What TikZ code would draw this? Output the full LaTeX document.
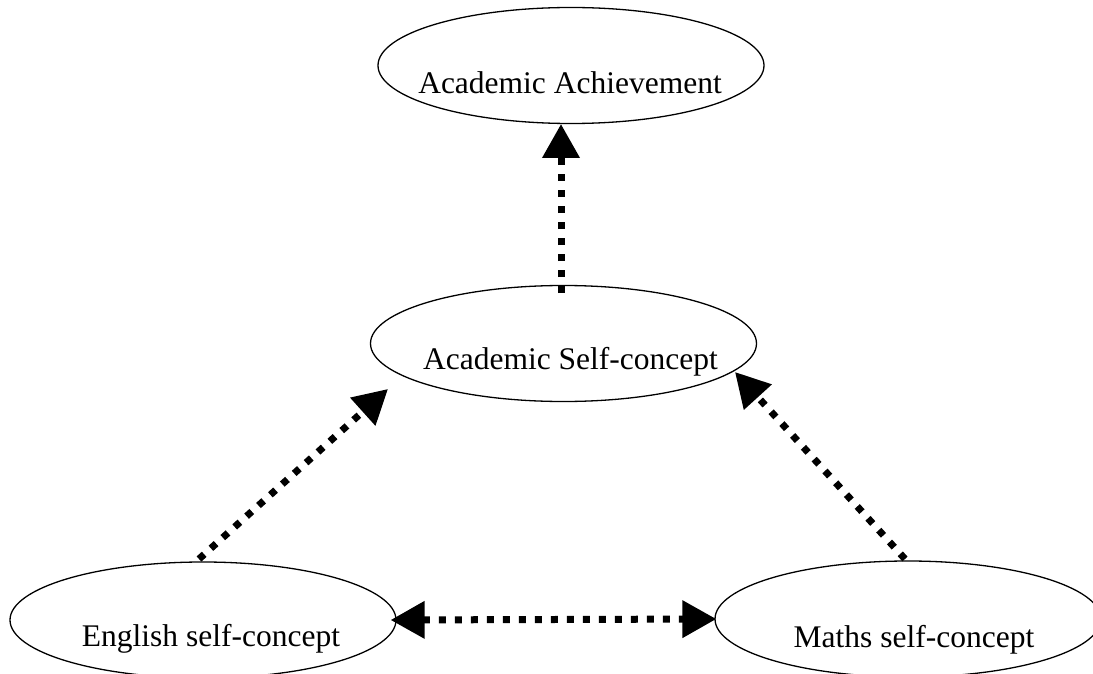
\documentclass[tikz,border=0pt]{standalone}
\usepackage{fontspec}
\setmainfont{Liberation Serif}
\usetikzlibrary{shapes.geometric,arrows.meta}
\begin{document}
\begin{tikzpicture}[x=1pt,y=-1pt,
  oval/.style={draw=black, line width=1.3pt, ellipse, minimum width=386pt, minimum height=116pt, inner sep=0pt},
  lbl/.style={anchor=base, inner sep=0pt, font=\fontsize{31.5}{36}\selectfont},
  conn/.style={line width=7pt, dash pattern=on 7pt off 9pt, -{Triangle[length=34pt,width=36pt]}},
  conn2/.style={line width=7pt, dash pattern=on 7pt off 9pt, {Triangle[length=34pt,width=36pt]}-{Triangle[length=34pt,width=36pt]}}]
\useasboundingbox (0,0) rectangle (1093,674);
\fill[white] (0,0) rectangle (1093,674);
% ellipses
\node[oval] (ach) at (571,65.5) {};
\node[oval] (mid) at (563.5,343.5) {};
\node[oval] (eng) at (203,620) {};
\node[oval] (mat) at (908,619) {};
% labels
\node[lbl] (tach) at (570,94) {Academic Achievement};
\node[lbl] (tmid) at (570.5,369) {Academic Self-concept};
\node[lbl] (teng) at (211,646) {English self-concept};
\node[lbl] (tmat) at (914,647) {Maths self-concept};
% connector end points
\coordinate (midUp) at (561,293);
\coordinate (achDn) at (561,124);
\coordinate (engTop) at (199,559);
\coordinate (midL) at (388,389);
\coordinate (matTop) at (905,559);
\coordinate (midR) at (735,372);
% connectors
\draw[conn] (midUp) -- (achDn);
\draw[conn] (engTop) -- (midL);
\draw[conn] (matTop) -- (midR);
\draw[conn2] ([xshift=-6pt]eng.east) -- ([xshift=2pt]mat.west);
\end{tikzpicture}
\end{document}
